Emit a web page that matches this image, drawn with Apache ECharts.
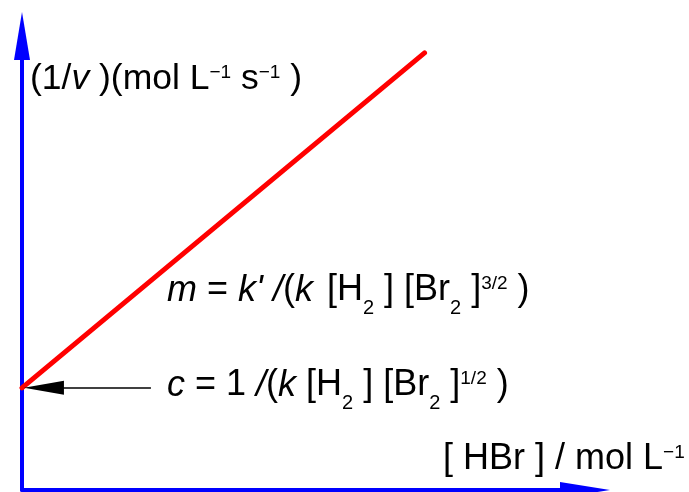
<!DOCTYPE html>
<html><head><meta charset="utf-8">
<script src="https://cdn.jsdelivr.net/npm/echarts@6/dist/echarts.min.js"></script>
<style>html,body{margin:0;padding:0;background:#fff}#c{width:689px;height:492px}</style>
</head><body><div id="c"></div>
<script>
// axis ranges (arbitrary units; the chart has no numeric ticks)
const xRange = [0, 10];
const yRange = [0, 10];
// the straight line 1/v versus [HBr]
const lineX = [0, 7.15];
const lineY = [2.25, 9.63];
// intercept annotation arrow (from label towards the y-intercept)
const arrowX = [2.29, 0.39];
const interceptY = 2.25;

const FONT = '"Liberation Sans", Arial, sans-serif';
const B = 50; // baseline offset from element top
function tok(fs, off, italic, padL) {
  return { fontSize: fs, fontFamily: FONT, fontStyle: italic ? 'italic' : 'normal', color: '#000',
           verticalAlign: 'top', padding: [Math.max(0, B - 0.8465 * fs + off), 0, 0, padL || 0] };
}
function richFor(fs) {
  return {
    n: tok(fs, 0, false),
    i: tok(fs, 0, true),
    g: tok(fs, 0, false, 4),
    sub: tok(20, 12.5, false),
    sup: tok(19, -12.5, false)
  };
}

const chart = echarts.init(document.getElementById('c'), null, { renderer: 'canvas' });
chart.setOption({
  animation: false,
  backgroundColor: '#fff',
  grid: { left: 22, right: 104, top: 36, bottom: 2, containLabel: false },
  xAxis: {
    type: 'value', min: xRange[0], max: xRange[1],
    axisLine: { show: true, onZero: false, symbol: ['none', 'triangle'], symbolSize: [16, 50],
                lineStyle: { color: '#0000ff', width: 4 } },
    axisTick: { show: false }, axisLabel: { show: false }, splitLine: { show: false }
  },
  yAxis: {
    type: 'value', min: yRange[0], max: yRange[1],
    axisLine: { show: true, onZero: false, symbol: ['none', 'triangle'], symbolSize: [16, 48],
                lineStyle: { color: '#0000ff', width: 4 } },
    axisTick: { show: false }, axisLabel: { show: false }, splitLine: { show: false }
  },
  series: [{
    type: 'line',
    data: lineX.map((x, k) => [x, lineY[k]]),
    symbol: 'none',
    lineStyle: { color: '#ff0000', width: 5, cap: 'round' },
    z: 3,
    markLine: {
      silent: true, animation: false,
      symbol: ['none', 'triangle'], symbolSize: [14, 40],
      label: { show: false },
      lineStyle: { color: '#000', width: 1.5, type: 'solid' },
      data: [[{ coord: [arrowX[0], interceptY] }, { coord: [arrowX[1], interceptY] }]]
    }
  }],
  graphic: [
    { type: 'text', x: 30, y: 91.5 - B, style: { align: 'left', verticalAlign: 'top',
      text: '{n|(1/}{i|v}{n| )(mol L}{sup|−1}{n| s}{sup|−1}{n| )}', rich: richFor(35.5) } },
    { type: 'text', x: 167, y: 303 - B, style: { align: 'left', verticalAlign: 'top',
      text: '{i|m}{n| = }{i|k\'}{n| }{i|/}{n|(}{i|k}{n| }{g|[H}{sub|2}{n| ] [Br}{sub|2}{n| ]}{sup|3/2}{n| )}', rich: richFor(36) } },
    { type: 'text', x: 167, y: 398 - B, style: { align: 'left', verticalAlign: 'top',
      text: '{i|c}{n| = 1 }{i|/}{n|(}{i|k}{n| [H}{sub|2}{n| ] [Br}{sub|2}{n| ]}{sup|1/2}{n| )}', rich: richFor(36) } },
    { type: 'text', x: 443, y: 472 - B, style: { align: 'left', verticalAlign: 'top',
      text: '{n|[ HBr ] / mol L}{sup|−1}', rich: richFor(36) } }
  ]
});
</script></body></html>
